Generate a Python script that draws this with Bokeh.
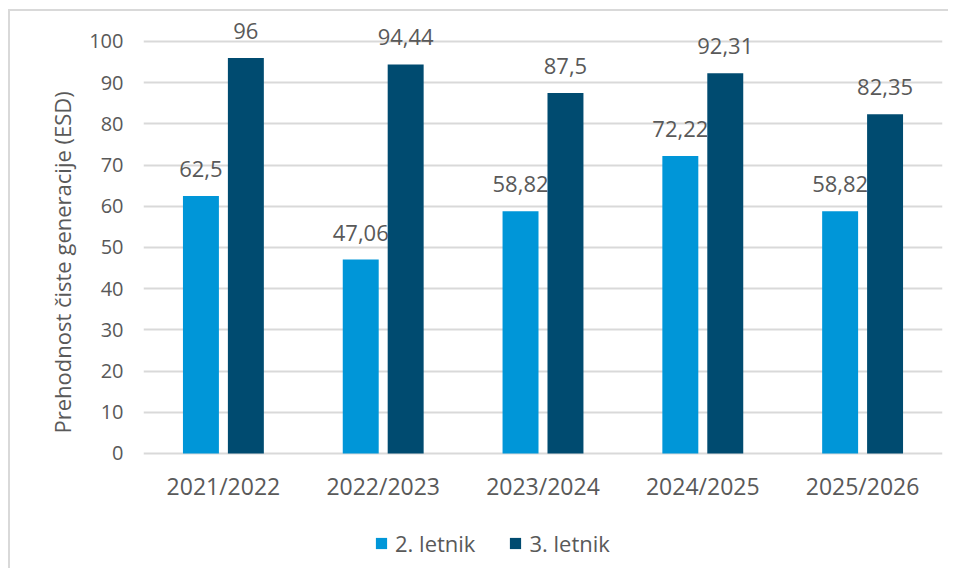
from bokeh.plotting import figure
from bokeh.models import ColumnDataSource, FactorRange, Legend, LegendItem, Range1d, FixedTicker, Title
from bokeh.transform import dodge
from bokeh.core.properties import value
from bokeh.embed import file_html
from bokeh.resources import INLINE

categories = ["2021/2022", "2022/2023", "2023/2024", "2024/2025", "2025/2026"]
letnik2 = [62.5, 47.06, 58.82, 72.22, 58.82]
letnik3 = [96, 94.44, 87.5, 92.31, 82.35]
series_names = ["2. letnik", "3. letnik"]
y_ticks = [0, 10, 20, 30, 40, 50, 60, 70, 80, 90, 100]
y_title = "Prehodnost čiste generacije (ESD)"

def fmt(v):
    return f"{v:g}".replace(".", ",")

source = ColumnDataSource(dict(
    cat=categories,
    l2=letnik2,
    l3=letnik3,
    l2_txt=[fmt(v) for v in letnik2],
    l3_txt=[fmt(v) for v in letnik3],
))

FONT = "Open Sans"
TXT = "#595959"
C2 = "#0096D8"
C3 = "#004B70"

p = figure(
    x_range=FactorRange(*categories, range_padding=0),
    y_range=Range1d(-28.4, 107.28),
    width=940, height=559,
    output_backend="svg", toolbar_location=None,
    min_border_left=133, min_border_right=8,
    min_border_top=0, min_border_bottom=0,
)
p.styles = {"margin-left": "8px", "margin-top": "9px",
            "border-left": "2px solid #D9D9D9", "border-top": "2px solid #D9D9D9"}
p.outline_line_color = None
p.background_fill_color = "white"
p.border_fill_color = "white"

r2 = p.vbar(x=dodge("cat", -0.1406, range=p.x_range), top="l2", width=0.225,
            source=source, fill_color=C2, line_color=None)
r3 = p.vbar(x=dodge("cat", 0.1406, range=p.x_range), top="l3", width=0.225,
            source=source, fill_color=C3, line_color=None)

p.text(x=dodge("cat", -0.1406, range=p.x_range), y="l2", text="l2_txt", source=source,
       text_font=value(FONT), text_font_size="22px", text_color=TXT,
       text_align="center", text_baseline="alphabetic", y_offset=-27)
p.text(x=dodge("cat", 0.1406, range=p.x_range), y="l3", text="l3_txt", source=source,
       text_font=value(FONT), text_font_size="22px", text_color=TXT,
       text_align="center", text_baseline="alphabetic", y_offset=-27)

# grid
p.xgrid.grid_line_color = None
p.ygrid.grid_line_color = "#D9D9D9"
p.ygrid.grid_line_width = 2
p.yaxis.ticker = FixedTicker(ticks=y_ticks)

for ax in (p.xaxis[0], p.yaxis[0]):
    ax.axis_line_color = None
    ax.major_tick_line_color = None
    ax.minor_tick_line_color = None
    ax.major_tick_out = 0
    ax.major_tick_in = 0
    ax.minor_tick_out = 0
    ax.major_label_text_font = FONT
    ax.major_label_text_color = TXT

p.xaxis.fixed_location = 0
p.xaxis.major_label_text_font_size = "23px"
p.yaxis.major_label_text_font_size = "20px"
p.xaxis.major_label_standoff = 17
p.yaxis.major_label_standoff = 20

# y-axis title; leading no-break spaces centre it on the 0..100 span
p.add_layout(Title(text="\u00a0" * 10 + y_title, align="center", standoff=19,
                   text_font=FONT, text_font_size="22px", text_font_style="normal",
                   text_color=TXT), "left")

legend = Legend(
    items=[LegendItem(label=series_names[0], renderers=[r2]),
           LegendItem(label=series_names[1], renderers=[r3])],
    orientation="horizontal",
    location=(231, 12),
    padding=0, margin=0, spacing=33,
    glyph_width=14, glyph_height=14, label_standoff=7,
    label_text_font=FONT, label_text_font_size="22px", label_text_color=TXT,
    border_line_color=None, background_fill_alpha=0,
)
p.add_layout(legend, "center")

open("out.html", "w").write(file_html(p, INLINE))
